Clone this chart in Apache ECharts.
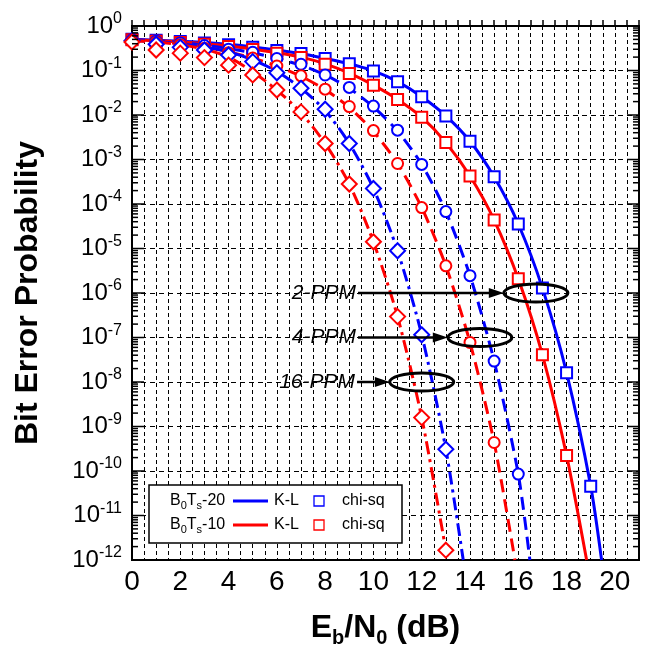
<!DOCTYPE html>
<html><head><meta charset="utf-8">
<script src="https://cdn.jsdelivr.net/npm/echarts@6/dist/echarts.min.js"></script>
<style>html,body{margin:0;padding:0;background:#fff}#c{width:662px;height:657px}</style>
</head><body><div id="c"></div>
<script>
// Eb/N0 in dB for the chi-sq markers and K-L curve points
const ebn0 = [0,1,2,3,4,5,6,7,8,9,10,11,12,13,14,15,16,17,18,19,20];
// log10(bit error probability), chi-sq markers, from 0 dB upward
const chi2ppm20 = [-0.30,-0.32,-0.35,-0.38,-0.42,-0.48,-0.55,-0.62,-0.73,-0.85,-1.01,-1.25,-1.59,-2.02,-2.59,-3.39,-4.45,-5.89,-7.79,-10.34];
const chi2ppm10 = [-0.31,-0.34,-0.37,-0.41,-0.46,-0.53,-0.61,-0.71,-0.86,-1.07,-1.33,-1.65,-2.05,-2.62,-3.37,-4.36,-5.68,-7.39,-9.65];
const chi4ppm20 = [-0.31,-0.34,-0.38,-0.44,-0.52,-0.59,-0.73,-0.86,-1.10,-1.38,-1.80,-2.34,-3.11,-4.17,-5.61,-7.53,-10.07];
const chi4ppm10 = [-0.32,-0.37,-0.42,-0.50,-0.60,-0.72,-0.90,-1.12,-1.42,-1.81,-2.35,-3.09,-4.08,-5.39,-7.11,-9.36];
const chi16ppm20 = [-0.33,-0.41,-0.48,-0.54,-0.65,-0.80,-1.05,-1.40,-1.87,-2.64,-3.65,-5.05,-6.94,-9.51];
const chi16ppm10 = [-0.36,-0.54,-0.61,-0.71,-0.88,-1.10,-1.44,-1.93,-2.64,-3.55,-4.85,-6.53,-8.80,-11.78];
// log10(bit error probability), K-L curves at integer dB, and the dB where each leaves the 1e-12 floor
const kl2ppm20 = [-0.30,-0.32,-0.34,-0.37,-0.41,-0.47,-0.54,-0.62,-0.73,-0.85,-1.01,-1.25,-1.59,-2.02,-2.59,-3.39,-4.45,-5.89,-7.79,-10.34];
const kl2ppm10 = [-0.31,-0.33,-0.36,-0.40,-0.45,-0.52,-0.60,-0.70,-0.85,-1.06,-1.33,-1.65,-2.05,-2.62,-3.37,-4.36,-5.68,-7.39,-9.65];
const kl4ppm20 = [-0.31,-0.33,-0.37,-0.43,-0.51,-0.60,-0.73,-0.88,-1.10,-1.40,-1.82,-2.36,-3.11,-4.17,-5.61,-7.53,-10.07];
const kl4ppm10 = [-0.32,-0.35,-0.40,-0.47,-0.58,-0.72,-0.90,-1.13,-1.43,-1.83,-2.37,-3.09,-4.08,-5.39,-7.11,-9.36];
const kl16ppm20 = [-0.32,-0.35,-0.40,-0.47,-0.58,-0.76,-1.02,-1.40,-1.90,-2.64,-3.65,-5.05,-6.94,-9.51];
const kl16ppm10 = [-0.33,-0.36,-0.42,-0.52,-0.70,-1.03,-1.44,-1.95,-2.64,-3.55,-4.85,-6.53,-8.80,-11.78];
const klEnd = {kl2ppm20:19.45, kl2ppm10:18.83, kl4ppm20:16.48, kl4ppm10:15.86, kl16ppm20:13.72, kl16ppm10:13.05};
// y-axis decade exponents
const decades = [0,-1,-2,-3,-4,-5,-6,-7,-8,-9,-10,-11,-12];
// annotations (data units)
const annLabels = ['2-PPM','4-PPM','16-PPM'];
const annY = [-6,-7,-8];
const annTextEnd = [9.32, 9.32, 9.28];
const annArrowTip = [15.4, 13.08, 10.68];
const annEllipseX = [16.73, 14.41, 12.0];

const FONT = "'Liberation Sans', Arial, sans-serif";
const BLUE = '#0000ff', RED = '#ff0000';

function klData(arr, end) {
  const d = arr.map((v, i) => [ebn0[i], v]);
  d.push([end, -12]);
  return d;
}
function chiData(arr) { return arr.map((v, i) => [ebn0[i], v]); }

const lineDefs = [
  {d: klData(kl2ppm20, klEnd.kl2ppm20), c: BLUE, t: 'solid'},
  {d: klData(kl2ppm10, klEnd.kl2ppm10), c: RED, t: 'solid'},
  {d: klData(kl4ppm20, klEnd.kl4ppm20), c: BLUE, t: [13, 7]},
  {d: klData(kl4ppm10, klEnd.kl4ppm10), c: RED, t: [13, 7]},
  {d: klData(kl16ppm20, klEnd.kl16ppm20), c: BLUE, t: [13, 5, 3, 5]},
  {d: klData(kl16ppm10, klEnd.kl16ppm10), c: RED, t: [13, 5, 3, 5]}
];
const markDefs = [
  {d: chiData(chi2ppm20), c: BLUE, s: 'emptyRect', z: 11},
  {d: chiData(chi2ppm10), c: RED, s: 'emptyRect', z: 11},
  {d: chiData(chi4ppm20), c: BLUE, s: 'emptyCircle', z: 12},
  {d: chiData(chi4ppm10), c: RED, s: 'emptyCircle', z: 12},
  {d: chiData(chi16ppm20), c: BLUE, s: 'emptyDiamond', z: 13},
  {d: chiData(chi16ppm10), c: RED, s: 'emptyDiamond', z: 13}
];

// minor log ticks (positions of 2..9 within each decade) plus decades
const tickPos = [];
for (let k = -12; k <= 0; k++) {
  tickPos.push([k, 1]);
  if (k < 0) for (let m = 2; m <= 9; m++) tickPos.push([k + Math.log10(m), 0]);
}

const series = [];
lineDefs.forEach(l => series.push({
  type: 'line', data: l.d, symbol: 'none', smooth: 0.25, clip: true, z: 5,
  lineStyle: {color: l.c, width: 3, type: l.t}
}));
markDefs.forEach(m => series.push({
  type: 'scatter', data: m.d, symbol: m.s, symbolSize: m.s === 'emptyDiamond' ? 15 : 11, z: m.z,
  itemStyle: {color: m.c, borderColor: m.c, borderWidth: 1.3, opacity: 1}
}));
series.push({
  type: 'custom', z: 20, silent: true, clip: false,
  data: tickPos.map(t => [0, t[0], t[1]]),
  renderItem: function (params, api) {
    const y = api.value(1), major = api.value(2) === 1;
    const len = major ? 12 : 6;
    const a = api.coord([0, y]), b = api.coord([21, y]);
    const st = {stroke: '#000', lineWidth: 1.5};
    return {type: 'group', children: [
      {type: 'line', shape: {x1: a[0], y1: a[1], x2: a[0] + len, y2: a[1]}, style: st},
      {type: 'line', shape: {x1: b[0], y1: b[1], x2: b[0] - len, y2: b[1]}, style: st}
    ]};
  }
});

const chart = echarts.init(document.getElementById('c'), null, {renderer: 'canvas'});
const option = {
  animation: false,
  backgroundColor: '#fff',
  textStyle: {fontFamily: FONT},
  grid: {left: 132, right: 23, top: 26, bottom: 97, show: true, borderColor: '#000', borderWidth: 2, backgroundColor: 'transparent'},
  xAxis: {
    type: 'value', min: 0, max: 21, interval: 0.5,
    axisLine: {lineStyle: {color: '#000', width: 2}},
    axisTick: {inside: true, length: 6, lineStyle: {color: '#000', width: 1.5}},
    axisLabel: {
      color: '#000', fontSize: 28, fontFamily: FONT, margin: 8,
      formatter: v => (Math.abs(v % 2) < 1e-9 && v <= 20) ? String(v) : ''
    },
    splitLine: {show: true, lineStyle: {color: '#000', width: 1, type: [4, 3]}},
    name: '{m|E}{s|b}{m|/N}{s|0}{m| (dB)}',
    nameLocation: 'middle', nameGap: 48,
    nameTextStyle: {
      rich: {
        m: {fontSize: 32, fontWeight: 'bold', fontFamily: FONT, color: '#000', lineHeight: 40},
        s: {fontSize: 20, fontWeight: 'bold', fontFamily: FONT, color: '#000', lineHeight: 20, verticalAlign: 'bottom'}
      }
    }
  },
  yAxis: {
    type: 'value', min: -12, max: 0, interval: 1,
    axisLine: {lineStyle: {color: '#000', width: 2}},
    axisTick: {show: false},
    axisLabel: {
      color: '#000', margin: 10,
      formatter: v => '{b|10}{s|' + v + '}',
      rich: {
        b: {fontSize: 24, fontFamily: FONT, color: '#000', lineHeight: 30},
        s: {fontSize: 16, fontFamily: FONT, color: '#000', lineHeight: 16, verticalAlign: 'top'}
      }
    },
    splitLine: {show: true, lineStyle: {color: '#000', width: 1, type: [5, 4]}},
    name: 'Bit Error Probability', nameLocation: 'middle', nameGap: 88, nameRotate: 90,
    nameTextStyle: {fontSize: 32, fontWeight: 'bold', fontFamily: FONT, color: '#000'}
  },
  series: series
};
chart.setOption(option);

// annotations & legend
const g = [];
for (let i = 0; i < annLabels.length; i++) {
  const p0 = chart.convertToPixel({gridIndex: 0}, [annTextEnd[i], annY[i]]);
  const p1 = chart.convertToPixel({gridIndex: 0}, [annArrowTip[i], annY[i]]);
  const pc = chart.convertToPixel({gridIndex: 0}, [annEllipseX[i], annY[i]]);
  g.push({type: 'text', z: 100, style: {text: annLabels[i], x: p0[0] - 1, y: p0[1], align: 'right', verticalAlign: 'middle',
    font: 'italic 21px ' + FONT, fill: '#000'}});
  g.push({type: 'line', z: 100, shape: {x1: p0[0] + 1, y1: p0[1], x2: p1[0] - 12, y2: p1[1]}, style: {stroke: '#000', lineWidth: 2.5}});
  g.push({type: 'polygon', z: 100, shape: {points: [[p1[0], p1[1]], [p1[0] - 15, p1[1] - 5], [p1[0] - 15, p1[1] + 5]]}, style: {fill: '#000'}});
  g.push({type: 'ellipse', z: 100, shape: {cx: pc[0], cy: pc[1], rx: 32, ry: 9}, style: {fill: 'none', stroke: '#000', lineWidth: 3}});
}
// legend box
const LX = 149, LY = 485;
g.push({type: 'rect', z: 100, shape: {x: LX, y: LY, width: 253, height: 58}, style: {fill: '#fff', stroke: '#000', lineWidth: 1.5}});
const rows = [{t: '-20', c: BLUE, y: LY + 16}, {t: '-10', c: RED, y: LY + 40}];
rows.forEach(r => {
  g.push({type: 'text', z: 101, style: {
    text: '{a|B}{s|0}{a|T}{s|s}{a|' + r.t + '}', x: LX + 21, y: r.y, verticalAlign: 'middle',
    rich: {a: {fontSize: 16, fontFamily: FONT, fill: '#000', lineHeight: 20}, s: {fontSize: 11, fontFamily: FONT, fill: '#000', lineHeight: 11, verticalAlign: 'bottom'}}
  }});
  g.push({type: 'line', z: 101, shape: {x1: LX + 84, y1: r.y, x2: LX + 119, y2: r.y}, style: {stroke: r.c, lineWidth: 3}});
  g.push({type: 'text', z: 101, style: {text: 'K-L', x: LX + 125, y: r.y, verticalAlign: 'middle', font: '16px ' + FONT, fill: '#000'}});
  g.push({type: 'rect', z: 101, shape: {x: LX + 165, y: r.y - 5, width: 10, height: 10}, style: {fill: '#fff', stroke: r.c, lineWidth: 1.3}});
  g.push({type: 'text', z: 101, style: {text: 'chi-sq', x: LX + 193, y: r.y, verticalAlign: 'middle', font: '16px ' + FONT, fill: '#000'}});
});
chart.setOption({graphic: {elements: g}});
</script>
</body></html>
